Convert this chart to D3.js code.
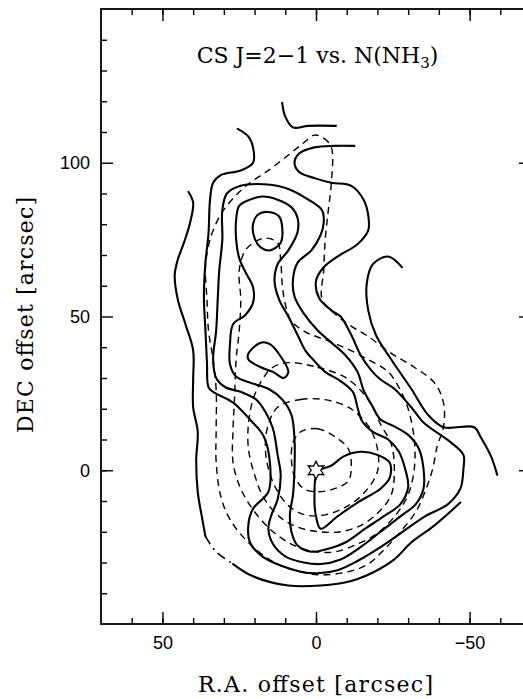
<!DOCTYPE html>
<html>
<head>
<meta charset="utf-8">
<script src="https://cdn.jsdelivr.net/npm/d3@7"></script>
<style>
body { margin: 0; background: #fff; }
svg { display: block; }
</style>
</head>
<body>
<svg id="chart" width="523" height="699"></svg>
<script>
// axis ticks (arcsec)
var raTicks = [60, 50, 40, 30, 20, 10, 0, -10, -20, -30, -40, -50, -60];
var raMajor = [50, 0, -50];
var decTicks = [-40, -30, -20, -10, 0, 10, 20, 30, 40, 60, 70, 80, 90, 110, 120, 130, 140];
var decMajor = [0, 50, 100];

// CS J=2-1 contours, [R.A. offset, DEC offset]
var cs1Left = [[41.5,90.5],[40,87],[41,80.5],[43,74],[45,68.5],[46,63.5],[45,55.5],[42.5,47.5],[40,39],[40,29.5],[40,20.5],[38.5,12.5],[39,3.5],[38.5,-7],[37,-16],[36,-21.5]];
var cs1Gap = [[36,-21.5],[32.5,-26.5],[27,-30.5]];
var cs1Bottom = [[27,-30.5],[20.5,-34.5],[9,-37.5],[-1.5,-37.5],[-11.5,-36],[-19,-33],[-25.5,-29],[-31,-23.5],[-38.5,-18],[-47,-10.5]];
var cs1Top = [[11,119.5],[10,115],[7.5,111.5],[2.5,112],[-6.5,112]];
var cs1Right = [[-28,66],[-23.5,69.5],[-18.5,67],[-16.5,60.5],[-17,52],[-19.5,44],[-24.5,36],[-31,26.5],[-36.5,18],[-41.5,14],[-51.5,14],[-53.5,11],[-57,4.5],[-59,-1.5]];
var cs2 = [[25.5,111],[22,108.5],[20.5,105],[20.5,100],[24.5,97.5],[31,96],[33.5,93.5],[34.5,88],[35,77],[36,67.5],[36.5,56.5],[36,45.5],[35.5,35],[35,27],[33.5,25.5],[27,22],[21.5,16.5],[17,11],[15,2.5],[15.5,-7],[20.5,-12.5],[22,-17.5],[21.5,-23.5],[17.5,-28],[11.5,-31],[5,-33],[-0.5,-33.5],[-7,-32.5],[-13.5,-29.5],[-21,-25],[-27.5,-20.5],[-35.5,-15],[-43,-11],[-47,-6],[-48,0.5],[-48,5],[-44,9],[-40.5,11.5],[-35,15.5],[-31,20.5],[-25.5,26.5],[-21,29.5],[-18,32.5],[-14.5,37.5],[-11.5,44],[-8,50],[-5,52],[-1,56],[0,61.5],[-2.5,66],[-7,69.5],[-13.5,73.5],[-17,78],[-17,83],[-15.5,88],[-11.5,92.5],[-5,93.5],[0.5,95],[5.5,97],[7,100],[5.5,103],[0.5,105],[-6,105.5],[-12.5,105.5]];
var cs3 = [[29,90],[24.5,92.5],[17,93],[9,91.5],[2.5,88],[-2,84.5],[-2.5,80.5],[-1.5,76.5],[1.5,71.5],[6,67.5],[7.5,62],[7,56.5],[4,51],[-0.5,45.5],[-5,41.5],[-9.5,37.5],[-13.5,32],[-15.5,26],[-18,21.5],[-21,16.5],[-25,14.5],[-30,11.5],[-33.5,7],[-35,0.5],[-35,-6],[-32.5,-11],[-27.5,-15],[-21,-20],[-14.5,-25],[-8,-29],[-1.5,-30.5],[4,-30],[10,-28],[14,-24],[15.5,-19],[14.5,-14.5],[12.5,-9.5],[11.5,-1.5],[12.5,5],[14,13.5],[16.5,19],[19.5,23],[24.5,25.5],[29.5,27],[32.5,30],[33.5,36],[32.5,45.5],[32,55.5],[31.5,65],[30.5,75],[30.5,84.5]];
var cs4 = [[25,86],[21.5,88],[17.5,89],[12.5,88],[8,85.5],[6,82],[6,77.5],[9,71.5],[12.5,67],[13.5,61.5],[12,55.5],[9,50],[6,44],[3.5,39],[0.5,35.5],[-3,32],[-8,29],[-12,25.5],[-13.5,20.5],[-15,16],[-18.5,12.5],[-23.5,10],[-27,6],[-29,0.5],[-30,-5.5],[-27.5,-11],[-22,-15],[-16,-19],[-9.5,-23.5],[-4,-25.5],[1.5,-26.5],[6,-24.5],[8,-20],[8.5,-14.5],[7.5,-8],[7,0.5],[7,10],[8,18],[11,23],[15.5,26.5],[21.5,28.5],[26,30.5],[28,34.5],[28,41],[27,47.5],[23,50.5],[20.5,54.5],[20.5,59.5],[23,64.5],[25,69],[26,75],[26,81.5]];
var cs5North = [[15.5,84],[12,82.5],[11,79],[11.5,74],[15,71.5],[18,72.5],[20,75.5],[20.5,80],[19,83]];
var cs5South = [[22,38],[18,41.5],[15,41],[11.5,37],[9,32],[10.5,30],[14,32],[18,33.5],[22,36]];
var cs6 = [[-0.5,-0.5],[0.5,-8.5],[0,-15],[-1.5,-19],[-7,-15],[-13.5,-10.5],[-21,-6],[-24,-2.5],[-24,2.5],[-20,5],[-14.5,6],[-9,4.5],[-5,1.5]];

// N(NH3) contours
var nh1 = [[0.5,109],[-2.5,108],[-5,105],[-5,93.5],[-4,84.5],[-3,75],[-2.5,65],[-2,55.5],[-6,51],[-10.5,47.5],[-17,43.5],[-24.5,38],[-32,33.5],[-38.5,28.5],[-41.5,22],[-41.5,14],[-39.5,8],[-38,0.5],[-35.5,-7],[-32.5,-13.5],[-27.5,-20],[-22.5,-25.5],[-17,-30.5],[-10.5,-33],[-1.5,-34],[5,-33],[13.5,-30],[22,-23.5],[28,-16],[31,-8.5],[32.5,2.5],[32.5,13.5],[32.5,26],[33.5,36],[35,45.5],[35.5,55.5],[36,66],[35,73],[33.5,78],[30.5,84],[26,89.5],[21.5,93.5],[15.5,97.5],[9,102.5],[4,106.5]];
var nh2 = [[16.5,75.5],[12.5,74],[11.5,68.5],[11,60.5],[10,54],[8,48.5],[3.5,45],[-1.5,43],[-9,40],[-17,36],[-23.5,32],[-27.5,26],[-30,20],[-32,10],[-32,0.5],[-30,-8],[-26,-14.5],[-20,-20.5],[-13.5,-24],[-6.5,-26.5],[0,-26.5],[7,-24.5],[14,-20],[20,-13.5],[24.5,-6],[27,2.5],[27,13.5],[26.5,24],[26,36],[25,45.5],[24.5,55.5],[25,65],[23,71.5],[19.5,74.5]];
var nh3 = [[9,35],[-0.5,33.5],[-9,30.5],[-14.5,26],[-18.5,20.5],[-21,15],[-24.5,8.5],[-25.5,0.5],[-24.5,-8],[-20.5,-13.5],[-14.5,-18],[-8,-20],[-1,-20],[6,-18.5],[12,-15],[17,-9],[20,-1.5],[22,7],[22,15],[20.5,23],[17.5,29.5],[14,33.5]];
var nh4 = [[12.5,20.5],[5,23],[-2.5,23],[-10.5,20.5],[-17,14.5],[-20,7],[-20,-0.5],[-16,-7],[-10.5,-11.5],[-3,-14.5],[3.5,-14.5],[9,-11.5],[13,-6],[15.5,0.5],[16.5,7.5],[15.5,15]];
var nh5 = [[5,12.5],[-0.5,13.5],[-6,11],[-10.5,7],[-11.5,1.5],[-10.5,-3.5],[-6,-6],[-0.5,-7],[4,-6],[7,-2],[8,3.5],[7.5,9]];

var source = [0, 0];

var svg = d3.select('#chart');
var x = d3.scaleLinear().domain([70, -70]).range([101, 531]);
var y = d3.scaleLinear().domain([-50, 150]).range([624, 9]);

var openLine = d3.line()
	.x(function(d) {return x(d[0]);})
	.y(function(d) {return y(d[1]);})
	.curve(d3.curveCatmullRom.alpha(0.5));
var closedLine = d3.line()
	.x(function(d) {return x(d[0]);})
	.y(function(d) {return y(d[1]);})
	.curve(d3.curveCatmullRomClosed.alpha(0.5));

// dashed NH3 contours first, solid CS on top
[nh1, nh2, nh3, nh4, nh5].forEach(function(c) {
	svg.append('path')
		.attr('d', closedLine(c))
		.attr('fill', 'none')
		.attr('stroke', '#000')
		.attr('stroke-width', 1.4)
		.attr('stroke-dasharray', '7,5');
});

[cs1Left, cs1Bottom, cs1Top, cs1Right, cs2].forEach(function(c) {
	svg.append('path')
		.attr('d', openLine(c))
		.attr('fill', 'none')
		.attr('stroke', '#000')
		.attr('stroke-width', 2.1)
		.attr('stroke-linecap', 'round');
});
svg.append('path')
	.attr('d', openLine(cs1Gap))
	.attr('fill', 'none')
	.attr('stroke', '#000')
	.attr('stroke-width', 1.6)
	.attr('stroke-dasharray', '9,5,2,5');

[cs3, cs4, cs5North, cs5South, cs6].forEach(function(c) {
	svg.append('path')
		.attr('d', closedLine(c))
		.attr('fill', 'none')
		.attr('stroke', '#000')
		.attr('stroke-width', 2.1);
});

// six pointed star at the source position
var starPts = [];
for (var k = 0; k < 12; k++) {
	var r = k % 2 === 0 ? 9 : 4.8;
	var a = Math.PI / 6 * k - Math.PI / 2;
	starPts.push([r * Math.cos(a), r * Math.sin(a)]);
}
svg.append('path')
	.attr('transform', 'translate(' + x(source[0]) + ',' + y(source[1]) + ')')
	.attr('d', 'M' + starPts.join('L') + 'Z')
	.attr('fill', '#fff')
	.attr('stroke', '#000')
	.attr('stroke-width', 1.3);

// axes, ticks pointing inward
function styleAxis(g) {
	g.select('.domain').remove();
	g.selectAll('line').attr('stroke', '#000').attr('stroke-width', 1.4);
	g.selectAll('text')
		.attr('fill', '#000')
		.style('font-family', '"Liberation Sans", Arial, sans-serif')
		.style('font-size', '18px');
}
function noLabel() { return ''; }

svg.append('g').attr('transform', 'translate(0,624)')
	.call(d3.axisBottom(x).tickValues(raTicks).tickSizeInner(-6).tickSizeOuter(0).tickFormat(noLabel)).call(styleAxis);
svg.append('g').attr('transform', 'translate(0,624)')
	.call(d3.axisBottom(x).tickValues(raMajor).tickSizeInner(-12).tickSizeOuter(0).tickPadding(12)
		.tickFormat(function(d) {return d < 0 ? '\u2212' + (-d) : d;})).call(styleAxis);
svg.append('g').attr('transform', 'translate(0,9)')
	.call(d3.axisTop(x).tickValues(raTicks).tickSizeInner(-6).tickSizeOuter(0).tickFormat(noLabel)).call(styleAxis);
svg.append('g').attr('transform', 'translate(0,9)')
	.call(d3.axisTop(x).tickValues(raMajor).tickSizeInner(-12).tickSizeOuter(0).tickFormat(noLabel)).call(styleAxis);
svg.append('g').attr('transform', 'translate(101,0)')
	.call(d3.axisLeft(y).tickValues(decTicks).tickSizeInner(-6).tickSizeOuter(0).tickFormat(noLabel)).call(styleAxis);
svg.append('g').attr('transform', 'translate(101,0)')
	.call(d3.axisLeft(y).tickValues(decMajor).tickSizeInner(-12).tickSizeOuter(0).tickPadding(11)).call(styleAxis);
svg.append('g').attr('transform', 'translate(531,0)')
	.call(d3.axisRight(y).tickValues(decTicks).tickSizeInner(-6).tickSizeOuter(0).tickFormat(noLabel)).call(styleAxis);
svg.append('g').attr('transform', 'translate(531,0)')
	.call(d3.axisRight(y).tickValues(decMajor).tickSizeInner(-12).tickSizeOuter(0).tickFormat(noLabel)).call(styleAxis);

svg.append('rect')
	.attr('x', x(70)).attr('y', y(150))
	.attr('width', x(-70) - x(70)).attr('height', y(-50) - y(150))
	.attr('fill', 'none').attr('stroke', '#000').attr('stroke-width', 1.8);

// titles
var serif = '"DejaVu Serif", "Liberation Serif", serif';
var title = svg.append('text')
	.attr('x', 317.5).attr('y', 63)
	.attr('text-anchor', 'middle')
	.style('font-family', serif).style('font-size', '22px');
title.append('tspan').text('CS J=2\u22121 vs. N(NH');
title.append('tspan').attr('dy', 5).style('font-size', '15px').text('3');
title.append('tspan').attr('dy', -5).text(')');

svg.append('text')
	.attr('x', 315.5).attr('y', 692)
	.attr('text-anchor', 'middle')
	.attr('textLength', 235).attr('lengthAdjust', 'spacing')
	.style('font-family', serif).style('font-size', '22px')
	.text('R.A. offset [arcsec]');

svg.append('text')
	.attr('transform', 'translate(33,315) rotate(-90)')
	.attr('text-anchor', 'middle')
	.attr('textLength', 236).attr('lengthAdjust', 'spacing')
	.style('font-family', serif).style('font-size', '22px')
	.text('DEC offset [arcsec]');
</script>
</body>
</html>
